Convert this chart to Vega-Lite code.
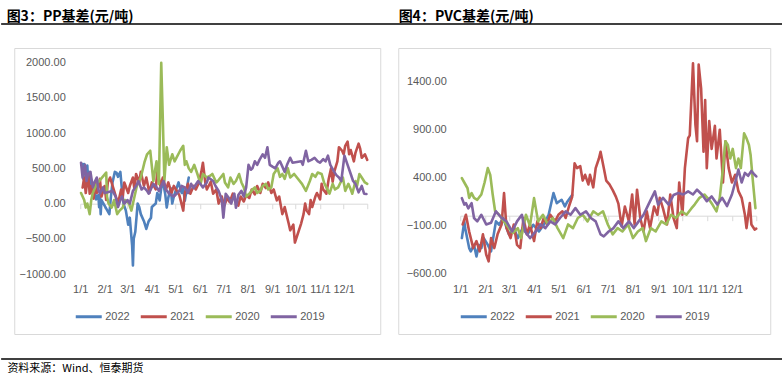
{
"$schema": "https://vega.github.io/schema/vega-lite/v6.json",
"padding": {"left": 0, "top": 9, "right": 0, "bottom": 0},
"config": {"view": {"stroke": null}, "font": "Liberation Sans", "concat": {"spacing": 16}},
"datasets": {
"pp": [
{"s":"2022","d":"2022/01/04","v":560},{"s":"2022","d":"2022/01/05","v":350},{"s":"2022","d":"2022/01/06","v":560},{"s":"2022","d":"2022/01/07","v":420},{"s":"2022","d":"2022/01/10","v":540},{"s":"2022","d":"2022/01/11","v":300},{"s":"2022","d":"2022/01/12","v":450},{"s":"2022","d":"2022/01/13","v":250},{"s":"2022","d":"2022/01/14","v":350},{"s":"2022","d":"2022/01/17","v":180},{"s":"2022","d":"2022/01/18","v":250},{"s":"2022","d":"2022/01/19","v":100},{"s":"2022","d":"2022/01/20","v":150},{"s":"2022","d":"2022/01/21","v":60},{"s":"2022","d":"2022/01/24","v":120},{"s":"2022","d":"2022/01/25","v":-50},{"s":"2022","d":"2022/01/26","v":100},{"s":"2022","d":"2022/01/27","v":-150},{"s":"2022","d":"2022/01/28","v":50},{"s":"2022","d":"2022/02/07","v":-150},{"s":"2022","d":"2022/02/09","v":100},{"s":"2022","d":"2022/02/11","v":300},{"s":"2022","d":"2022/02/14","v":450},{"s":"2022","d":"2022/02/16","v":440},{"s":"2022","d":"2022/02/18","v":380},{"s":"2022","d":"2022/02/21","v":450},{"s":"2022","d":"2022/02/23","v":200},{"s":"2022","d":"2022/02/25","v":0},{"s":"2022","d":"2022/02/28","v":-100},{"s":"2022","d":"2022/03/02","v":-300},{"s":"2022","d":"2022/03/04","v":-200},{"s":"2022","d":"2022/03/07","v":-600},{"s":"2022","d":"2022/03/08","v":-880},{"s":"2022","d":"2022/03/09","v":-500},{"s":"2022","d":"2022/03/11","v":-400},{"s":"2022","d":"2022/03/14","v":0},{"s":"2022","d":"2022/03/16","v":-50},{"s":"2022","d":"2022/03/18","v":-150},{"s":"2022","d":"2022/03/22","v":-250},{"s":"2022","d":"2022/03/25","v":-360},{"s":"2022","d":"2022/03/28","v":-250},{"s":"2022","d":"2022/03/31","v":-200},{"s":"2022","d":"2022/04/01","v":-50},{"s":"2022","d":"2022/04/06","v":0},{"s":"2022","d":"2022/04/08","v":150},{"s":"2022","d":"2022/04/11","v":45},{"s":"2022","d":"2022/04/13","v":220},{"s":"2022","d":"2022/04/15","v":320},{"s":"2022","d":"2022/04/18","v":140},{"s":"2022","d":"2022/04/20","v":-57},{"s":"2022","d":"2022/04/22","v":85},{"s":"2022","d":"2022/04/25","v":220},{"s":"2022","d":"2022/04/27","v":0},{"s":"2022","d":"2022/04/29","v":100},{"s":"2022","d":"2022/05/05","v":300},{"s":"2022","d":"2022/05/09","v":150},{"s":"2022","d":"2022/05/11","v":220},{"s":"2022","d":"2022/05/13","v":40},{"s":"2022","d":"2022/05/16","v":250},{"s":"2022","d":"2022/05/18","v":370},
{"s":"2021","d":"2021/01/04","v":227},{"s":"2021","d":"2021/01/06","v":370},{"s":"2021","d":"2021/01/08","v":150},{"s":"2021","d":"2021/01/11","v":420},{"s":"2021","d":"2021/01/13","v":140},{"s":"2021","d":"2021/01/15","v":250},{"s":"2021","d":"2021/01/18","v":70},{"s":"2021","d":"2021/01/20","v":300},{"s":"2021","d":"2021/01/22","v":150},{"s":"2021","d":"2021/01/26","v":350},{"s":"2021","d":"2021/01/28","v":100},{"s":"2021","d":"2021/02/01","v":250},{"s":"2021","d":"2021/02/03","v":50},{"s":"2021","d":"2021/02/05","v":300},{"s":"2021","d":"2021/02/08","v":370},{"s":"2021","d":"2021/02/18","v":0},{"s":"2021","d":"2021/02/22","v":200},{"s":"2021","d":"2021/02/24","v":85},{"s":"2021","d":"2021/02/26","v":300},{"s":"2021","d":"2021/03/02","v":150},{"s":"2021","d":"2021/03/04","v":250},{"s":"2021","d":"2021/03/08","v":370},{"s":"2021","d":"2021/03/10","v":200},{"s":"2021","d":"2021/03/12","v":420},{"s":"2021","d":"2021/03/16","v":300},{"s":"2021","d":"2021/03/18","v":450},{"s":"2021","d":"2021/03/22","v":250},{"s":"2021","d":"2021/03/25","v":370},{"s":"2021","d":"2021/03/29","v":150},{"s":"2021","d":"2021/04/01","v":300},{"s":"2021","d":"2021/04/06","v":200},{"s":"2021","d":"2021/04/08","v":460},{"s":"2021","d":"2021/04/12","v":250},{"s":"2021","d":"2021/04/15","v":370},{"s":"2021","d":"2021/04/19","v":200},{"s":"2021","d":"2021/04/22","v":300},{"s":"2021","d":"2021/04/26","v":150},{"s":"2021","d":"2021/04/29","v":250},{"s":"2021","d":"2021/05/06","v":120},{"s":"2021","d":"2021/05/11","v":-100},{"s":"2021","d":"2021/05/13","v":150},{"s":"2021","d":"2021/05/17","v":280},{"s":"2021","d":"2021/05/20","v":140},{"s":"2021","d":"2021/05/24","v":250},{"s":"2021","d":"2021/05/27","v":200},{"s":"2021","d":"2021/05/31","v":300},{"s":"2021","d":"2021/06/03","v":450},{"s":"2021","d":"2021/06/05","v":580},{"s":"2021","d":"2021/06/08","v":300},{"s":"2021","d":"2021/06/10","v":200},{"s":"2021","d":"2021/06/15","v":310},{"s":"2021","d":"2021/06/18","v":140},{"s":"2021","d":"2021/06/22","v":200},{"s":"2021","d":"2021/06/25","v":0},{"s":"2021","d":"2021/06/29","v":100},{"s":"2021","d":"2021/07/02","v":-30},{"s":"2021","d":"2021/07/06","v":80},{"s":"2021","d":"2021/07/09","v":20},{"s":"2021","d":"2021/07/13","v":140},{"s":"2021","d":"2021/07/16","v":50},{"s":"2021","d":"2021/07/20","v":-30},{"s":"2021","d":"2021/07/23","v":100},{"s":"2021","d":"2021/07/27","v":30},{"s":"2021","d":"2021/07/30","v":120},{"s":"2021","d":"2021/08/03","v":80},{"s":"2021","d":"2021/08/06","v":200},{"s":"2021","d":"2021/08/10","v":130},{"s":"2021","d":"2021/08/13","v":250},{"s":"2021","d":"2021/08/17","v":150},{"s":"2021","d":"2021/08/20","v":280},{"s":"2021","d":"2021/08/24","v":220},{"s":"2021","d":"2021/08/27","v":300},{"s":"2021","d":"2021/08/31","v":150},{"s":"2021","d":"2021/09/03","v":200},{"s":"2021","d":"2021/09/07","v":45},{"s":"2021","d":"2021/09/10","v":100},{"s":"2021","d":"2021/09/14","v":-150},{"s":"2021","d":"2021/09/17","v":-50},{"s":"2021","d":"2021/09/22","v":-280},{"s":"2021","d":"2021/09/24","v":-380},{"s":"2021","d":"2021/09/28","v":-300},{"s":"2021","d":"2021/09/30","v":-553},{"s":"2021","d":"2021/10/08","v":-280},{"s":"2021","d":"2021/10/11","v":-150},{"s":"2021","d":"2021/10/13","v":0},{"s":"2021","d":"2021/10/15","v":-100},{"s":"2021","d":"2021/10/18","v":-150},{"s":"2021","d":"2021/10/20","v":50},{"s":"2021","d":"2021/10/22","v":-50},{"s":"2021","d":"2021/10/26","v":100},{"s":"2021","d":"2021/10/28","v":150},{"s":"2021","d":"2021/11/01","v":60},{"s":"2021","d":"2021/11/03","v":280},{"s":"2021","d":"2021/11/05","v":200},{"s":"2021","d":"2021/11/09","v":140},{"s":"2021","d":"2021/11/12","v":350},{"s":"2021","d":"2021/11/15","v":500},{"s":"2021","d":"2021/11/17","v":310},{"s":"2021","d":"2021/11/19","v":450},{"s":"2021","d":"2021/11/23","v":600},{"s":"2021","d":"2021/11/25","v":800},{"s":"2021","d":"2021/11/29","v":750},{"s":"2021","d":"2021/12/01","v":700},{"s":"2021","d":"2021/12/03","v":820},{"s":"2021","d":"2021/12/06","v":880},{"s":"2021","d":"2021/12/08","v":700},{"s":"2021","d":"2021/12/10","v":760},{"s":"2021","d":"2021/12/14","v":600},{"s":"2021","d":"2021/12/16","v":720},{"s":"2021","d":"2021/12/20","v":850},{"s":"2021","d":"2021/12/22","v":780},{"s":"2021","d":"2021/12/24","v":650},{"s":"2021","d":"2021/12/28","v":700},{"s":"2021","d":"2021/12/31","v":620},
{"s":"2020","d":"2020/01/02","v":150},{"s":"2020","d":"2020/01/06","v":50},{"s":"2020","d":"2020/01/08","v":-57},{"s":"2020","d":"2020/01/10","v":0},{"s":"2020","d":"2020/01/13","v":-150},{"s":"2020","d":"2020/01/15","v":50},{"s":"2020","d":"2020/01/17","v":150},{"s":"2020","d":"2020/01/20","v":230},{"s":"2020","d":"2020/01/22","v":280},{"s":"2020","d":"2020/02/03","v":440},{"s":"2020","d":"2020/02/04","v":100},{"s":"2020","d":"2020/02/06","v":0},{"s":"2020","d":"2020/02/10","v":-57},{"s":"2020","d":"2020/02/13","v":50},{"s":"2020","d":"2020/02/17","v":-150},{"s":"2020","d":"2020/02/20","v":-100},{"s":"2020","d":"2020/02/24","v":-57},{"s":"2020","d":"2020/02/27","v":50},{"s":"2020","d":"2020/03/03","v":0},{"s":"2020","d":"2020/03/06","v":-100},{"s":"2020","d":"2020/03/10","v":100},{"s":"2020","d":"2020/03/13","v":250},{"s":"2020","d":"2020/03/18","v":370},{"s":"2020","d":"2020/03/23","v":600},{"s":"2020","d":"2020/03/26","v":700},{"s":"2020","d":"2020/03/30","v":750},{"s":"2020","d":"2020/04/03","v":320},{"s":"2020","d":"2020/04/07","v":600},{"s":"2020","d":"2020/04/10","v":280},{"s":"2020","d":"2020/04/13","v":2000},{"s":"2020","d":"2020/04/15","v":1200},{"s":"2020","d":"2020/04/17","v":320},{"s":"2020","d":"2020/04/20","v":800},{"s":"2020","d":"2020/04/23","v":550},{"s":"2020","d":"2020/04/27","v":700},{"s":"2020","d":"2020/04/30","v":600},{"s":"2020","d":"2020/05/07","v":750},{"s":"2020","d":"2020/05/11","v":820},{"s":"2020","d":"2020/05/13","v":550},{"s":"2020","d":"2020/05/15","v":600},{"s":"2020","d":"2020/05/18","v":500},{"s":"2020","d":"2020/05/21","v":450},{"s":"2020","d":"2020/05/25","v":550},{"s":"2020","d":"2020/05/29","v":420},{"s":"2020","d":"2020/06/02","v":280},{"s":"2020","d":"2020/06/05","v":420},{"s":"2020","d":"2020/06/10","v":370},{"s":"2020","d":"2020/06/15","v":400},{"s":"2020","d":"2020/06/17","v":420},{"s":"2020","d":"2020/06/22","v":300},{"s":"2020","d":"2020/06/24","v":320},{"s":"2020","d":"2020/07/01","v":420},{"s":"2020","d":"2020/07/03","v":300},{"s":"2020","d":"2020/07/07","v":230},{"s":"2020","d":"2020/07/10","v":370},{"s":"2020","d":"2020/07/14","v":280},{"s":"2020","d":"2020/07/17","v":320},{"s":"2020","d":"2020/07/21","v":420},{"s":"2020","d":"2020/07/24","v":300},{"s":"2020","d":"2020/07/27","v":230},{"s":"2020","d":"2020/07/30","v":100},{"s":"2020","d":"2020/08/04","v":150},{"s":"2020","d":"2020/08/07","v":200},{"s":"2020","d":"2020/08/10","v":230},{"s":"2020","d":"2020/08/13","v":150},{"s":"2020","d":"2020/08/17","v":180},{"s":"2020","d":"2020/08/20","v":250},{"s":"2020","d":"2020/08/24","v":280},{"s":"2020","d":"2020/08/27","v":200},{"s":"2020","d":"2020/08/31","v":230},{"s":"2020","d":"2020/09/03","v":420},{"s":"2020","d":"2020/09/08","v":500},{"s":"2020","d":"2020/09/11","v":380},{"s":"2020","d":"2020/09/14","v":420},{"s":"2020","d":"2020/09/17","v":350},{"s":"2020","d":"2020/09/21","v":500},{"s":"2020","d":"2020/09/24","v":370},{"s":"2020","d":"2020/09/29","v":420},{"s":"2020","d":"2020/10/09","v":280},{"s":"2020","d":"2020/10/14","v":180},{"s":"2020","d":"2020/10/19","v":320},{"s":"2020","d":"2020/10/22","v":420},{"s":"2020","d":"2020/10/26","v":380},{"s":"2020","d":"2020/10/29","v":440},{"s":"2020","d":"2020/11/03","v":420},{"s":"2020","d":"2020/11/06","v":300},{"s":"2020","d":"2020/11/09","v":230},{"s":"2020","d":"2020/11/13","v":140},{"s":"2020","d":"2020/11/17","v":280},{"s":"2020","d":"2020/11/20","v":200},{"s":"2020","d":"2020/11/24","v":230},{"s":"2020","d":"2020/11/27","v":300},{"s":"2020","d":"2020/11/30","v":370},{"s":"2020","d":"2020/12/03","v":180},{"s":"2020","d":"2020/12/07","v":280},{"s":"2020","d":"2020/12/10","v":200},{"s":"2020","d":"2020/12/12","v":140},{"s":"2020","d":"2020/12/16","v":320},{"s":"2020","d":"2020/12/18","v":250},{"s":"2020","d":"2020/12/21","v":420},{"s":"2020","d":"2020/12/24","v":370},{"s":"2020","d":"2020/12/28","v":300},{"s":"2020","d":"2020/12/31","v":280},
{"s":"2019","d":"2019/01/02","v":580},{"s":"2019","d":"2019/01/04","v":370},{"s":"2019","d":"2019/01/07","v":550},{"s":"2019","d":"2019/01/09","v":320},{"s":"2019","d":"2019/01/11","v":420},{"s":"2019","d":"2019/01/14","v":450},{"s":"2019","d":"2019/01/17","v":230},{"s":"2019","d":"2019/01/19","v":300},{"s":"2019","d":"2019/01/22","v":370},{"s":"2019","d":"2019/01/24","v":200},{"s":"2019","d":"2019/01/26","v":140},{"s":"2019","d":"2019/01/30","v":230},{"s":"2019","d":"2019/02/01","v":150},{"s":"2019","d":"2019/02/11","v":180},{"s":"2019","d":"2019/02/13","v":140},{"s":"2019","d":"2019/02/15","v":100},{"s":"2019","d":"2019/02/18","v":-50},{"s":"2019","d":"2019/02/21","v":50},{"s":"2019","d":"2019/02/23","v":100},{"s":"2019","d":"2019/02/26","v":0},{"s":"2019","d":"2019/03/01","v":50},{"s":"2019","d":"2019/03/04","v":0},{"s":"2019","d":"2019/03/08","v":180},{"s":"2019","d":"2019/03/12","v":250},{"s":"2019","d":"2019/03/15","v":320},{"s":"2019","d":"2019/03/19","v":200},{"s":"2019","d":"2019/03/22","v":230},{"s":"2019","d":"2019/03/26","v":180},{"s":"2019","d":"2019/03/28","v":140},{"s":"2019","d":"2019/04/03","v":280},{"s":"2019","d":"2019/04/08","v":220},{"s":"2019","d":"2019/04/10","v":180},{"s":"2019","d":"2019/04/16","v":320},{"s":"2019","d":"2019/04/19","v":200},{"s":"2019","d":"2019/04/23","v":140},{"s":"2019","d":"2019/04/29","v":100},{"s":"2019","d":"2019/05/06","v":180},{"s":"2019","d":"2019/05/09","v":250},{"s":"2019","d":"2019/05/13","v":230},{"s":"2019","d":"2019/05/17","v":150},{"s":"2019","d":"2019/05/21","v":280},{"s":"2019","d":"2019/05/24","v":220},{"s":"2019","d":"2019/05/30","v":320},{"s":"2019","d":"2019/06/05","v":230},{"s":"2019","d":"2019/06/10","v":300},{"s":"2019","d":"2019/06/12","v":370},{"s":"2019","d":"2019/06/18","v":320},{"s":"2019","d":"2019/06/21","v":250},{"s":"2019","d":"2019/06/25","v":180},{"s":"2019","d":"2019/06/29","v":50},{"s":"2019","d":"2019/07/01","v":-200},{"s":"2019","d":"2019/07/04","v":140},{"s":"2019","d":"2019/07/08","v":80},{"s":"2019","d":"2019/07/11","v":0},{"s":"2019","d":"2019/07/15","v":140},{"s":"2019","d":"2019/07/17","v":-60},{"s":"2019","d":"2019/07/20","v":120},{"s":"2019","d":"2019/07/24","v":180},{"s":"2019","d":"2019/07/27","v":100},{"s":"2019","d":"2019/07/30","v":230},{"s":"2019","d":"2019/08/02","v":550},{"s":"2019","d":"2019/08/05","v":480},{"s":"2019","d":"2019/08/07","v":500},{"s":"2019","d":"2019/08/10","v":600},{"s":"2019","d":"2019/08/13","v":550},{"s":"2019","d":"2019/08/16","v":620},{"s":"2019","d":"2019/08/20","v":700},{"s":"2019","d":"2019/08/23","v":650},{"s":"2019","d":"2019/08/26","v":800},{"s":"2019","d":"2019/08/29","v":550},{"s":"2019","d":"2019/09/02","v":520},{"s":"2019","d":"2019/09/05","v":500},{"s":"2019","d":"2019/09/09","v":580},{"s":"2019","d":"2019/09/11","v":600},{"s":"2019","d":"2019/09/17","v":450},{"s":"2019","d":"2019/09/20","v":550},{"s":"2019","d":"2019/09/24","v":650},{"s":"2019","d":"2019/09/27","v":580},{"s":"2019","d":"2019/10/08","v":600},{"s":"2019","d":"2019/10/10","v":550},{"s":"2019","d":"2019/10/14","v":750},{"s":"2019","d":"2019/10/17","v":600},{"s":"2019","d":"2019/10/21","v":620},{"s":"2019","d":"2019/10/25","v":650},{"s":"2019","d":"2019/10/29","v":600},{"s":"2019","d":"2019/11/01","v":580},{"s":"2019","d":"2019/11/05","v":630},{"s":"2019","d":"2019/11/08","v":600},{"s":"2019","d":"2019/11/11","v":680},{"s":"2019","d":"2019/11/14","v":550},{"s":"2019","d":"2019/11/19","v":450},{"s":"2019","d":"2019/11/22","v":400},{"s":"2019","d":"2019/11/25","v":370},{"s":"2019","d":"2019/11/28","v":320},{"s":"2019","d":"2019/12/02","v":680},{"s":"2019","d":"2019/12/06","v":550},{"s":"2019","d":"2019/12/10","v":420},{"s":"2019","d":"2019/12/13","v":320},{"s":"2019","d":"2019/12/16","v":280},{"s":"2019","d":"2019/12/20","v":160},{"s":"2019","d":"2019/12/24","v":250},{"s":"2019","d":"2019/12/27","v":140},{"s":"2019","d":"2019/12/30","v":135}
],
"pvc": [
{"s":"2022","d":"2022/01/03","v":-229},{"s":"2022","d":"2022/01/06","v":-55},{"s":"2022","d":"2022/01/07","v":-125},{"s":"2022","d":"2022/01/12","v":-333},{"s":"2022","d":"2022/01/14","v":-367},{"s":"2022","d":"2022/01/18","v":-300},{"s":"2022","d":"2022/01/21","v":-420},{"s":"2022","d":"2022/01/24","v":-300},{"s":"2022","d":"2022/01/27","v":-333},{"s":"2022","d":"2022/01/30","v":-229},{"s":"2022","d":"2022/02/04","v":-300},{"s":"2022","d":"2022/02/08","v":-367},{"s":"2022","d":"2022/02/10","v":-260},{"s":"2022","d":"2022/02/14","v":-55},{"s":"2022","d":"2022/02/18","v":-90},{"s":"2022","d":"2022/02/23","v":-20},{"s":"2022","d":"2022/03/01","v":-190},{"s":"2022","d":"2022/03/07","v":-125},{"s":"2022","d":"2022/03/12","v":-229},{"s":"2022","d":"2022/03/18","v":-125},{"s":"2022","d":"2022/03/24","v":-190},{"s":"2022","d":"2022/03/31","v":-90},{"s":"2022","d":"2022/04/07","v":-160},{"s":"2022","d":"2022/04/13","v":-90},{"s":"2022","d":"2022/04/19","v":14},{"s":"2022","d":"2022/04/25","v":240},{"s":"2022","d":"2022/04/29","v":135},{"s":"2022","d":"2022/05/05","v":170},{"s":"2022","d":"2022/05/09","v":100},{"s":"2022","d":"2022/05/12","v":150},{"s":"2022","d":"2022/05/18","v":220},
{"s":"2021","d":"2021/01/04","v":-87},{"s":"2021","d":"2021/01/08","v":14},{"s":"2021","d":"2021/01/12","v":-160},{"s":"2021","d":"2021/01/17","v":-333},{"s":"2021","d":"2021/01/21","v":-260},{"s":"2021","d":"2021/01/25","v":-367},{"s":"2021","d":"2021/01/29","v":-190},{"s":"2021","d":"2021/02/02","v":-400},{"s":"2021","d":"2021/02/05","v":-471},{"s":"2021","d":"2021/02/08","v":-229},{"s":"2021","d":"2021/02/12","v":-333},{"s":"2021","d":"2021/02/16","v":-190},{"s":"2021","d":"2021/02/21","v":-87},{"s":"2021","d":"2021/02/24","v":240},{"s":"2021","d":"2021/02/27","v":-125},{"s":"2021","d":"2021/03/03","v":-229},{"s":"2021","d":"2021/03/07","v":-87},{"s":"2021","d":"2021/03/11","v":-300},{"s":"2021","d":"2021/03/15","v":-333},{"s":"2021","d":"2021/03/19","v":-20},{"s":"2021","d":"2021/03/23","v":-190},{"s":"2021","d":"2021/03/27","v":-87},{"s":"2021","d":"2021/04/01","v":-260},{"s":"2021","d":"2021/04/05","v":-55},{"s":"2021","d":"2021/04/09","v":-125},{"s":"2021","d":"2021/04/13","v":-20},{"s":"2021","d":"2021/04/17","v":-87},{"s":"2021","d":"2021/04/21","v":14},{"s":"2021","d":"2021/04/27","v":-55},{"s":"2021","d":"2021/05/01","v":14},{"s":"2021","d":"2021/05/06","v":50},{"s":"2021","d":"2021/05/10","v":-20},{"s":"2021","d":"2021/05/14","v":100},{"s":"2021","d":"2021/05/18","v":200},{"s":"2021","d":"2021/05/21","v":550},{"s":"2021","d":"2021/05/24","v":500},{"s":"2021","d":"2021/05/28","v":520},{"s":"2021","d":"2021/05/31","v":370},{"s":"2021","d":"2021/06/03","v":430},{"s":"2021","d":"2021/06/07","v":330},{"s":"2021","d":"2021/06/09","v":430},{"s":"2021","d":"2021/06/13","v":300},{"s":"2021","d":"2021/06/16","v":500},{"s":"2021","d":"2021/06/20","v":600},{"s":"2021","d":"2021/06/22","v":670},{"s":"2021","d":"2021/06/26","v":500},{"s":"2021","d":"2021/06/29","v":370},{"s":"2021","d":"2021/07/03","v":330},{"s":"2021","d":"2021/07/07","v":270},{"s":"2021","d":"2021/07/11","v":200},{"s":"2021","d":"2021/07/14","v":130},{"s":"2021","d":"2021/07/18","v":-107},{"s":"2021","d":"2021/07/22","v":100},{"s":"2021","d":"2021/07/27","v":-55},{"s":"2021","d":"2021/07/31","v":225},{"s":"2021","d":"2021/08/03","v":-87},{"s":"2021","d":"2021/08/06","v":275},{"s":"2021","d":"2021/08/10","v":-20},{"s":"2021","d":"2021/08/14","v":-160},{"s":"2021","d":"2021/08/18","v":50},{"s":"2021","d":"2021/08/22","v":-125},{"s":"2021","d":"2021/08/27","v":100},{"s":"2021","d":"2021/08/31","v":14},{"s":"2021","d":"2021/09/03","v":190},{"s":"2021","d":"2021/09/07","v":80},{"s":"2021","d":"2021/09/12","v":-87},{"s":"2021","d":"2021/09/16","v":225},{"s":"2021","d":"2021/09/20","v":-20},{"s":"2021","d":"2021/09/24","v":-125},{"s":"2021","d":"2021/09/27","v":350},{"s":"2021","d":"2021/10/01","v":14},{"s":"2021","d":"2021/10/04","v":500},{"s":"2021","d":"2021/10/08","v":811},{"s":"2021","d":"2021/10/10","v":840},{"s":"2021","d":"2021/10/14","v":1591},{"s":"2021","d":"2021/10/17","v":950},{"s":"2021","d":"2021/10/19","v":780},{"s":"2021","d":"2021/10/21","v":1578},{"s":"2021","d":"2021/10/24","v":1330},{"s":"2021","d":"2021/10/27","v":670},{"s":"2021","d":"2021/10/29","v":1210},{"s":"2021","d":"2021/10/31","v":500},{"s":"2021","d":"2021/11/03","v":990},{"s":"2021","d":"2021/11/06","v":700},{"s":"2021","d":"2021/11/10","v":940},{"s":"2021","d":"2021/11/12","v":600},{"s":"2021","d":"2021/11/16","v":900},{"s":"2021","d":"2021/11/20","v":350},{"s":"2021","d":"2021/11/23","v":780},{"s":"2021","d":"2021/11/27","v":500},{"s":"2021","d":"2021/12/01","v":350},{"s":"2021","d":"2021/12/05","v":430},{"s":"2021","d":"2021/12/09","v":260},{"s":"2021","d":"2021/12/13","v":190},{"s":"2021","d":"2021/12/17","v":14},{"s":"2021","d":"2021/12/19","v":-125},{"s":"2021","d":"2021/12/23","v":135},{"s":"2021","d":"2021/12/25","v":-87},{"s":"2021","d":"2021/12/29","v":-140},{"s":"2021","d":"2021/12/31","v":-130},
{"s":"2020","d":"2020/01/03","v":395},{"s":"2020","d":"2020/01/06","v":350},{"s":"2020","d":"2020/01/10","v":290},{"s":"2020","d":"2020/01/12","v":190},{"s":"2020","d":"2020/01/15","v":240},{"s":"2020","d":"2020/01/18","v":190},{"s":"2020","d":"2020/01/22","v":170},{"s":"2020","d":"2020/01/27","v":225},{"s":"2020","d":"2020/01/31","v":350},{"s":"2020","d":"2020/02/04","v":500},{"s":"2020","d":"2020/02/07","v":430},{"s":"2020","d":"2020/02/10","v":225},{"s":"2020","d":"2020/02/13","v":50},{"s":"2020","d":"2020/02/18","v":14},{"s":"2020","d":"2020/02/24","v":-55},{"s":"2020","d":"2020/03/01","v":-125},{"s":"2020","d":"2020/03/06","v":-175},{"s":"2020","d":"2020/03/12","v":-125},{"s":"2020","d":"2020/03/16","v":-229},{"s":"2020","d":"2020/03/22","v":14},{"s":"2020","d":"2020/03/27","v":-100},{"s":"2020","d":"2020/04/01","v":187},{"s":"2020","d":"2020/04/06","v":-55},{"s":"2020","d":"2020/04/12","v":14},{"s":"2020","d":"2020/04/18","v":-87},{"s":"2020","d":"2020/04/24","v":-20},{"s":"2020","d":"2020/04/30","v":-125},{"s":"2020","d":"2020/05/07","v":-229},{"s":"2020","d":"2020/05/13","v":-87},{"s":"2020","d":"2020/05/19","v":-125},{"s":"2020","d":"2020/05/25","v":-20},{"s":"2020","d":"2020/05/31","v":14},{"s":"2020","d":"2020/06/06","v":-55},{"s":"2020","d":"2020/06/13","v":50},{"s":"2020","d":"2020/06/19","v":14},{"s":"2020","d":"2020/06/25","v":50},{"s":"2020","d":"2020/07/01","v":-87},{"s":"2020","d":"2020/07/07","v":-190},{"s":"2020","d":"2020/07/13","v":-125},{"s":"2020","d":"2020/07/19","v":-160},{"s":"2020","d":"2020/07/26","v":-87},{"s":"2020","d":"2020/08/01","v":-229},{"s":"2020","d":"2020/08/07","v":-160},{"s":"2020","d":"2020/08/13","v":-125},{"s":"2020","d":"2020/08/17","v":-260},{"s":"2020","d":"2020/08/23","v":-125},{"s":"2020","d":"2020/08/29","v":-160},{"s":"2020","d":"2020/09/05","v":-55},{"s":"2020","d":"2020/09/11","v":-87},{"s":"2020","d":"2020/09/17","v":14},{"s":"2020","d":"2020/09/23","v":-20},{"s":"2020","d":"2020/09/30","v":50},{"s":"2020","d":"2020/10/06","v":14},{"s":"2020","d":"2020/10/12","v":80},{"s":"2020","d":"2020/10/16","v":120},{"s":"2020","d":"2020/10/22","v":190},{"s":"2020","d":"2020/10/28","v":225},{"s":"2020","d":"2020/11/03","v":170},{"s":"2020","d":"2020/11/07","v":120},{"s":"2020","d":"2020/11/12","v":50},{"s":"2020","d":"2020/11/16","v":190},{"s":"2020","d":"2020/11/20","v":500},{"s":"2020","d":"2020/11/23","v":780},{"s":"2020","d":"2020/11/26","v":740},{"s":"2020","d":"2020/11/29","v":600},{"s":"2020","d":"2020/12/02","v":700},{"s":"2020","d":"2020/12/06","v":500},{"s":"2020","d":"2020/12/09","v":600},{"s":"2020","d":"2020/12/12","v":500},{"s":"2020","d":"2020/12/16","v":863},{"s":"2020","d":"2020/12/19","v":810},{"s":"2020","d":"2020/12/22","v":740},{"s":"2020","d":"2020/12/24","v":640},{"s":"2020","d":"2020/12/27","v":350},{"s":"2020","d":"2020/12/30","v":83},
{"s":"2019","d":"2019/01/03","v":187},{"s":"2019","d":"2019/01/06","v":120},{"s":"2019","d":"2019/01/08","v":135},{"s":"2019","d":"2019/01/11","v":80},{"s":"2019","d":"2019/01/15","v":135},{"s":"2019","d":"2019/01/18","v":-20},{"s":"2019","d":"2019/01/22","v":-55},{"s":"2019","d":"2019/01/27","v":14},{"s":"2019","d":"2019/02/02","v":-87},{"s":"2019","d":"2019/02/08","v":-70},{"s":"2019","d":"2019/02/14","v":50},{"s":"2019","d":"2019/02/21","v":-20},{"s":"2019","d":"2019/02/27","v":-55},{"s":"2019","d":"2019/03/05","v":-160},{"s":"2019","d":"2019/03/11","v":-55},{"s":"2019","d":"2019/03/17","v":14},{"s":"2019","d":"2019/03/21","v":-160},{"s":"2019","d":"2019/03/27","v":-229},{"s":"2019","d":"2019/04/03","v":-160},{"s":"2019","d":"2019/04/09","v":-87},{"s":"2019","d":"2019/04/15","v":-125},{"s":"2019","d":"2019/04/21","v":-55},{"s":"2019","d":"2019/04/27","v":-87},{"s":"2019","d":"2019/05/03","v":-20},{"s":"2019","d":"2019/05/10","v":50},{"s":"2019","d":"2019/05/16","v":14},{"s":"2019","d":"2019/05/22","v":83},{"s":"2019","d":"2019/05/28","v":14},{"s":"2019","d":"2019/06/04","v":50},{"s":"2019","d":"2019/06/10","v":-20},{"s":"2019","d":"2019/06/16","v":-55},{"s":"2019","d":"2019/06/22","v":-190},{"s":"2019","d":"2019/06/26","v":-211},{"s":"2019","d":"2019/07/02","v":-160},{"s":"2019","d":"2019/07/08","v":-125},{"s":"2019","d":"2019/07/14","v":-55},{"s":"2019","d":"2019/07/20","v":-125},{"s":"2019","d":"2019/07/27","v":-55},{"s":"2019","d":"2019/08/02","v":-125},{"s":"2019","d":"2019/08/08","v":-55},{"s":"2019","d":"2019/08/14","v":14},{"s":"2019","d":"2019/08/20","v":120},{"s":"2019","d":"2019/08/28","v":257},{"s":"2019","d":"2019/09/01","v":120},{"s":"2019","d":"2019/09/07","v":190},{"s":"2019","d":"2019/09/14","v":120},{"s":"2019","d":"2019/09/20","v":220},{"s":"2019","d":"2019/09/26","v":240},{"s":"2019","d":"2019/10/02","v":225},{"s":"2019","d":"2019/10/08","v":257},{"s":"2019","d":"2019/10/14","v":225},{"s":"2019","d":"2019/10/19","v":275},{"s":"2019","d":"2019/10/25","v":225},{"s":"2019","d":"2019/10/31","v":155},{"s":"2019","d":"2019/11/06","v":205},{"s":"2019","d":"2019/11/13","v":120},{"s":"2019","d":"2019/11/19","v":190},{"s":"2019","d":"2019/11/25","v":105},{"s":"2019","d":"2019/12/01","v":225},{"s":"2019","d":"2019/12/05","v":350},{"s":"2019","d":"2019/12/09","v":485},{"s":"2019","d":"2019/12/13","v":350},{"s":"2019","d":"2019/12/17","v":450},{"s":"2019","d":"2019/12/21","v":420},{"s":"2019","d":"2019/12/25","v":470},{"s":"2019","d":"2019/12/28","v":440},{"s":"2019","d":"2019/12/31","v":413}
]
},
"center": true,
"vconcat": [
{"width": 782, "height": 7, "data": {"values": [{}]},
"mark": {"type": "rule", "color": "#000000", "strokeWidth": 1.5},
"encoding": {
"y": {"datum": 1, "type": "quantitative", "scale": {"domain": [0, 1]},
"axis": {"orient": "left", "domain": false, "ticks": false, "labels": false, "grid": false, "title": "图3：PP基差(元/吨)", "titleFont": "Noto Sans CJK SC", "titleFontSize": 14, "titleFontWeight": "bold", "titleColor": "#000000", "titleAngle": 0, "titleX": 5, "titleY": -4, "titleAlign": "left", "titleBaseline": "alphabetic", "titlePadding": 0}},
"x": {"datum": 0, "type": "quantitative", "scale": {"domain": [0, 1]},
"axis": {"orient": "top", "domain": false, "ticks": false, "labels": false, "grid": false, "title": "图4：PVC基差(元/吨)", "titleFont": "Noto Sans CJK SC", "titleFontSize": 14, "titleFontWeight": "bold", "titleColor": "#000000", "titleAngle": 0, "titleX": 397, "titleY": -4, "titleAlign": "left", "titleBaseline": "alphabetic", "titlePadding": 0}},
"x2": {"datum": 1}
}},
{
"hconcat": [
{"width": 366, "height": 286, "view": {"stroke": "#d9d9d9", "strokeWidth": 1},
"data": {"name": "pp"},
"mark": {"type": "line", "strokeWidth": 2.6, "strokeJoin": "round", "strokeCap": "round"},
"encoding": {
"x": {"field": "d", "type": "temporal", "timeUnit": "monthdate",
"scale": {"domain": [{"month": 1, "date": 1}, {"month": 12, "date": 31}], "range": [66, 353]},
"axis": {"orient": "bottom", "offset": -130.3, "title": null, "grid": false, "domainColor": "#d9d9d9", "tickColor": "#d9d9d9", "tickSize": 5, "labelPadding": 75, "labelColor": "#595959", "labelFontSize": 11, "labelAngle": 0, "labelFlush": false, "labelOverlap": false, "format": "%-m/%-d",
"values": [{"month": 1, "date": 1}, {"month": 2, "date": 1}, {"month": 3, "date": 1}, {"month": 4, "date": 1}, {"month": 5, "date": 1}, {"month": 6, "date": 1}, {"month": 7, "date": 1}, {"month": 8, "date": 1}, {"month": 9, "date": 1}, {"month": 10, "date": 1}, {"month": 11, "date": 1}, {"month": 12, "date": 1}, {"month": 12, "date": 31}],
"labelExpr": "datum.label == '12/31' ? '' : datum.label"}},
"y": {"field": "v", "type": "quantitative",
"scale": {"domain": [-1000, 2000], "range": [226, 14.7], "nice": false, "zero": false},
"axis": {"orient": "left", "offset": -51, "domain": false, "ticks": false, "tickSize": 0, "labelPadding": 0, "grid": false, "values": [-1000, -500, 0, 500, 1000, 1500, 2000], "format": ".2f", "labelColor": "#595959", "labelFontSize": 11, "title": null}},
"color": {"field": "s", "type": "nominal",
"scale": {"domain": ["2022", "2021", "2020", "2019"], "range": ["#4F81BD", "#C0504D", "#9BBB59", "#8064A2"]},
"legend": {"orient": "none", "legendX": 60, "legendY": 254, "direction": "horizontal", "columns": 4, "title": null, "symbolType": "stroke", "symbolSize": 676, "symbolStrokeWidth": 3, "labelFontSize": 11, "labelColor": "#595959", "columnPadding": 4, "labelOffset": 2}}
}},
{"width": 372, "height": 286, "view": {"stroke": "#d9d9d9", "strokeWidth": 1},
"data": {"name": "pvc"},
"mark": {"type": "line", "strokeWidth": 2.6, "strokeJoin": "round", "strokeCap": "round"},
"encoding": {
"x": {"field": "d", "type": "temporal", "timeUnit": "monthdate",
"scale": {"domain": [{"month": 1, "date": 1}, {"month": 12, "date": 31}], "range": [62, 358]},
"axis": {"orient": "bottom", "offset": -118.3, "title": null, "grid": false, "domainColor": "#d9d9d9", "tickColor": "#d9d9d9", "tickSize": 5, "labelPadding": 62.8, "labelColor": "#595959", "labelFontSize": 11, "labelAngle": 0, "labelFlush": false, "labelOverlap": false, "format": "%-m/%-d",
"values": [{"month": 1, "date": 1}, {"month": 2, "date": 1}, {"month": 3, "date": 1}, {"month": 4, "date": 1}, {"month": 5, "date": 1}, {"month": 6, "date": 1}, {"month": 7, "date": 1}, {"month": 8, "date": 1}, {"month": 9, "date": 1}, {"month": 10, "date": 1}, {"month": 11, "date": 1}, {"month": 12, "date": 1}, {"month": 12, "date": 31}],
"labelExpr": "datum.label == '12/31' ? '' : datum.label"}},
"y": {"field": "v", "type": "quantitative",
"scale": {"domain": [-600, 1400], "range": [225.7, 33.7], "nice": false, "zero": false},
"axis": {"orient": "left", "offset": -48, "domain": false, "ticks": false, "tickSize": 0, "labelPadding": 0, "grid": false, "values": [-600, -100, 400, 900, 1400], "format": ".2f", "labelColor": "#595959", "labelFontSize": 11, "title": null}},
"color": {"field": "s", "type": "nominal",
"scale": {"domain": ["2022", "2021", "2020", "2019"], "range": ["#4F81BD", "#C0504D", "#9BBB59", "#8064A2"]},
"legend": {"orient": "none", "legendX": 61, "legendY": 254, "direction": "horizontal", "columns": 4, "title": null, "symbolType": "stroke", "symbolSize": 676, "symbolStrokeWidth": 3, "labelFontSize": 11, "labelColor": "#595959", "columnPadding": 4, "labelOffset": 2}}
}}
],
"resolve": {"scale": {"x": "independent", "y": "independent", "color": "independent"}}
},
{"width": 782, "height": 8, "data": {"values": [{}]},
"title": {"text": "资料来源：Wind、恒泰期货", "orient": "bottom", "anchor": "start", "font": "Noto Sans CJK SC", "fontSize": 11, "fontWeight": "normal", "color": "#000000", "dx": 7, "offset": 3},
"mark": {"type": "rule", "color": "#000000", "strokeWidth": 1.5},
"encoding": {"y": {"datum": 0, "type": "quantitative", "scale": {"domain": [0, 1]}, "axis": null}}}
]
}
